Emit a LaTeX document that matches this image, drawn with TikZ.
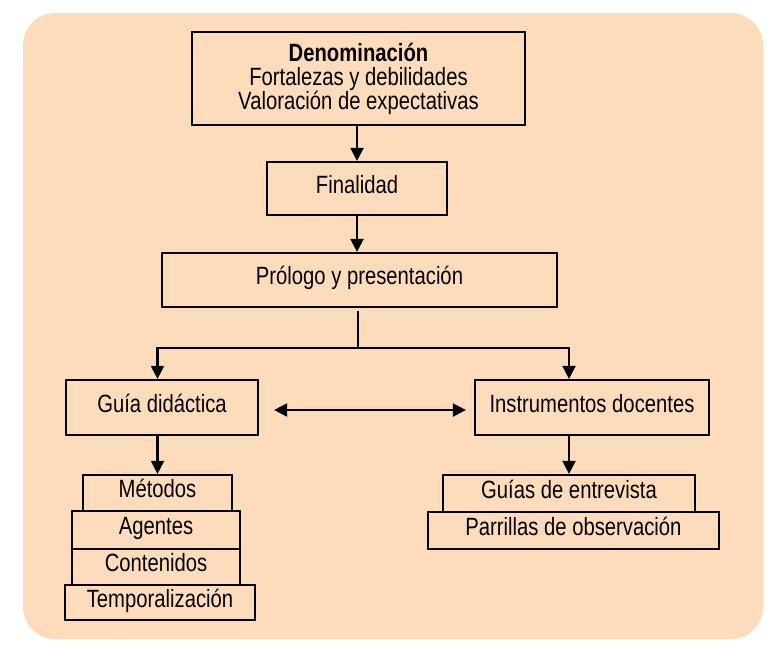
\documentclass[tikz,border=0pt]{standalone}
\usepackage{fontspec}
\setmainfont{Liberation Sans}[FakeStretch=0.81]
\usetikzlibrary{arrows.meta}
\definecolor{peach}{HTML}{FDDCBC}
\begin{document}
\begin{tikzpicture}[x=1pt,y=-1pt,
  box/.style={draw=black, line width=2.2pt, inner sep=0pt, align=center,
    font=\fontsize{25}{24}\selectfont},
  one/.style={box, text height=16pt, text depth=7pt},
  arr/.style={line width=2.2pt, -{Triangle[width=13pt,length=13pt]}},
  dbl/.style={line width=2.2pt, {Triangle[width=13pt,length=13pt]}-{Triangle[width=13pt,length=13pt]}}]
\useasboundingbox (0,0) rectangle (778,653);
\fill[peach, rounded corners=32pt] (23,13) rectangle (763,639);
\node[box, minimum width=333pt, minimum height=93pt] (den) at (358.5,78.5)
  {\textbf{Denominación}\\Fortalezas y debilidades\\Valoración de expectativas};
\node[one, minimum width=180pt, minimum height=53pt] (fin) at (357,188.5) {Finalidad};
\node[one, minimum width=395pt, minimum height=54pt] (pro) at (359.5,280) {Prólogo y presentación};
\node[one, minimum width=192pt, minimum height=55pt] (guia) at (162,407.5) {Guía didáctica};
\node[one, minimum width=234pt, minimum height=55pt] (inst) at (592,407.5) {Instrumentos docentes};
\node[one, minimum width=149pt, minimum height=36pt] (met) at (157.5,493) {Métodos};
\node[one, minimum width=168pt, minimum height=38pt] (age) at (156,530) {Agentes};
\node[one, minimum width=168pt, minimum height=36pt] (con) at (156,567) {Contenidos};
\node[one, minimum width=190pt, minimum height=35pt] (tem) at (160,602.5) {Temporalización};
\node[one, minimum width=252pt, minimum height=37pt] (gui) at (569,493.5) {Guías de entrevista};
\node[one, minimum width=291pt, minimum height=37pt] (par) at (573.5,530.5) {Parrillas de observación};
\coordinate (split) at (358,348);
\draw[arr] (den.south -| fin.north) -- (fin.north);
\draw[arr] (fin.south) -- (fin.south |- pro.north);
\draw[line width=2.2pt, shorten <=3pt] (pro.south -| split) -- (split);
\draw[arr] (split) -| (met.north |- guia.north);
\draw[arr] (split) -| (gui.north |- inst.north);
\draw[dbl, shorten <=15pt, shorten >=8pt] ([yshift=-2.5pt]guia.east) -- ([yshift=-2.5pt]inst.west);
\draw[arr] (guia.south -| met.north) -- (met.north);
\draw[arr] (inst.south -| gui.north) -- (gui.north);
\end{tikzpicture}
\end{document}
